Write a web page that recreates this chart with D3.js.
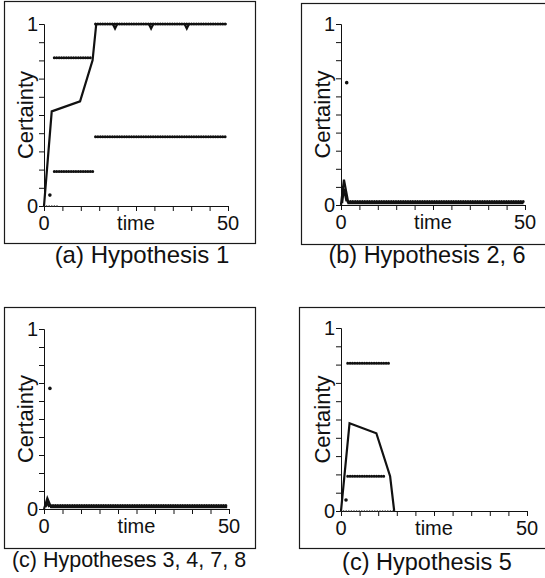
<!DOCTYPE html>
<html><head><meta charset="utf-8">
<script src="https://cdn.jsdelivr.net/npm/d3@7"></script>
<style>body{margin:0;background:#fff}svg{display:block}</style>
</head><body>
<svg id="chart" width="545" height="578"></svg>
<script>
// ---------------- data ----------------
const xTickValues = [0,5,10,15,20,25,30,35,40,45,50];
const xTickLabels = ["0","50"];
const yTickValues = [0,0.1,0.2,0.3,0.4,0.5,0.6,0.7,0.8,0.9,1];
const yTickLabels = ["0","1"];
const xTitle = "time";
const yTitle = "Certainty";
const captions = ["(a) Hypothesis 1","(b) Hypothesis 2, 6","(c) Hypotheses 3, 4, 7, 8","(c) Hypothesis 5"];

// solid certainty curves  [time, certainty]
const solidA = [[0,0],[2.1,0.52],[9.8,0.575],[13.2,0.8],[14.2,1],[18.7,1],[19.3,0.975],[19.9,1],[28.5,1],[29.1,0.975],[29.7,1],[38.2,1],[38.8,0.975],[39.4,1],[49.6,1]];
const solidB = [[0,0],[0.8,0.14],[2.0,0.01],[49.6,0.01]];
const solidC = [[0,0],[0.9,0.06],[1.9,0.01],[49.5,0.01]];
const solidD = [[0,0],[2.3,0.48],[9.5,0.425],[13.2,0.19],[14.3,0]];

// inner evidence lines for the spikes [time, certainty]
const innerB = [[0.3,0.01],[0.8,0.09],[1.5,0.02]];
const innerC = [[0.4,0.01],[0.9,0.035],[1.4,0.01]];

// dotted evidence levels  [startTime, endTime, certainty]
const dottedA = [[2.8,13.2,0.815],[2.8,13.6,0.19],[14,49.5,0.38],[14,49.5,1.0]];
const dottedB = [[1.9,49.6,0.02]];
const dottedC = [[1.8,49.5,0.02]];
const dottedD = [[1.8,13.2,0.807],[1.8,12.1,0.19]];
// faint dotted zero-level traces [startTime, endTime, certainty]
const zeroA = [[0,4,0]];
const zeroD = [[0,14.3,0]];

// isolated points [time, certainty]
const pointsA = [[1.6,0.06]];
const pointsB = [[1.55,0.676]];
const pointsC = [[1.6,0.67]];
const pointsD = [[1.35,0.06]];

// ---------------- layout ----------------
const panels = [
  {frame:[4,1,255,243],   x:[44,228],  y:[206,24],  cap:[142,263], solid:solidA, inner:null,   dotted:dottedA, zero:zeroA, points:pointsA, text:captions[0], fs:24},
  {frame:[301,3,560,244], x:[341,525], y:[205,24],  cap:[427,263], solid:solidB, inner:innerB, dotted:dottedB, zero:[],    points:pointsB, text:captions[1], fs:23.5},
  {frame:[4,307,255,548], x:[44,229],  y:[509,329], cap:[129,567], solid:solidC, inner:innerC, dotted:dottedC, zero:[],    points:pointsC, text:captions[2], fs:21.5},
  {frame:[299,307,560,548],x:[341,527],y:[511,328], cap:[427,570], solid:solidD, inner:null,   dotted:dottedD, zero:zeroD, points:pointsD, text:captions[3], fs:23.5}
];

const svg = d3.select("#chart");
const FONT = "'Liberation Sans', Arial, Helvetica, sans-serif";

panels.forEach(p => {
  const g = svg.append("g");
  const [fx0,fy0,fx1,fy1] = p.frame;
  g.append("rect").attr("x",fx0+0.5).attr("y",fy0+0.5).attr("width",fx1-fx0).attr("height",fy1-fy0)
    .attr("fill","none").attr("stroke","#1a1a1a").attr("stroke-width",1.2);

  const x = d3.scaleLinear().domain([0,50]).range(p.x);
  const y = d3.scaleLinear().domain([0,1]).range(p.y);

  // x axis
  const xa = g.append("g").attr("transform",`translate(0,${p.y[0]})`)
    .call(d3.axisBottom(x).tickValues(xTickValues).tickSize(5).tickFormat(""));
  xa.select(".domain").attr("stroke","#111").attr("stroke-width",1);
  xa.selectAll(".tick line").attr("stroke","#111").attr("stroke-width",1);
  // y axis
  const ya = g.append("g").attr("transform",`translate(${p.x[0]},0)`)
    .call(d3.axisLeft(y).tickValues(yTickValues).tickSize(5).tickFormat(""));
  ya.select(".domain").attr("stroke","#111").attr("stroke-width",1);
  ya.selectAll(".tick line").attr("stroke","#111").attr("stroke-width",1);

  // tick labels
  g.selectAll(".xl").data(xTickLabels).enter().append("text")
    .attr("x",d=>x(+d)).attr("y",p.y[0]+24).attr("text-anchor","middle")
    .attr("font-family",FONT).attr("font-size",20).attr("fill","#111").text(d=>d);
  g.selectAll(".yl").data(yTickLabels).enter().append("text")
    .attr("x",p.x[0]-6).attr("y",d=>y(+d)+7).attr("text-anchor","end")
    .attr("font-family",FONT).attr("font-size",20).attr("fill","#111").text(d=>d);
  // axis titles
  g.append("text").attr("x",(p.x[0]+p.x[1])/2).attr("y",p.y[0]+24).attr("text-anchor","middle")
    .attr("font-family",FONT).attr("font-size",20).attr("fill","#111").text(xTitle);
  const ym = (p.y[0]+p.y[1])/2;
  g.append("text").attr("transform",`translate(${p.x[0]-11},${ym}) rotate(-90)`).attr("text-anchor","middle")
    .attr("font-family",FONT).attr("font-size",22).attr("fill","#111").text(yTitle);

  // faint zero-level dotted traces
  g.selectAll(".zero-line").data(p.zero).enter().append("line")
    .attr("x1",d=>x(d[0])).attr("x2",d=>x(d[1])).attr("y1",d=>y(d[2])).attr("y2",d=>y(d[2]))
    .attr("stroke","#333").attr("stroke-width",1.6).attr("stroke-linecap","round")
    .attr("stroke-dasharray","0,2.6");

  // dotted evidence lines
  g.selectAll(".dot-line").data(p.dotted).enter().append("line")
    .attr("x1",d=>x(d[0])).attr("x2",d=>x(d[1])).attr("y1",d=>y(d[2])).attr("y2",d=>y(d[2]))
    .attr("stroke","#111").attr("stroke-width",3).attr("stroke-linecap","round")
    .attr("stroke-dasharray","0,2.4");

  const line = d3.line().x(d=>x(d[0])).y(d=>y(d[1]));
  if (p.inner) {
    g.append("path").attr("d",line(p.inner)).attr("fill","none").attr("stroke","#111").attr("stroke-width",2.2);
  }
  g.append("path").attr("d",line(p.solid)).attr("fill","none").attr("stroke","#111")
    .attr("stroke-width",2.2).attr("stroke-linejoin","miter");

  g.selectAll(".pt").data(p.points).enter().append("circle")
    .attr("cx",d=>x(d[0])).attr("cy",d=>y(d[1])).attr("r",1.8).attr("fill","#111");

  g.append("text").attr("x",p.cap[0]).attr("y",p.cap[1]).attr("text-anchor","middle")
    .attr("font-family",FONT).attr("font-size",p.fs).attr("fill","#111").text(p.text);
});
</script>
</body></html>
